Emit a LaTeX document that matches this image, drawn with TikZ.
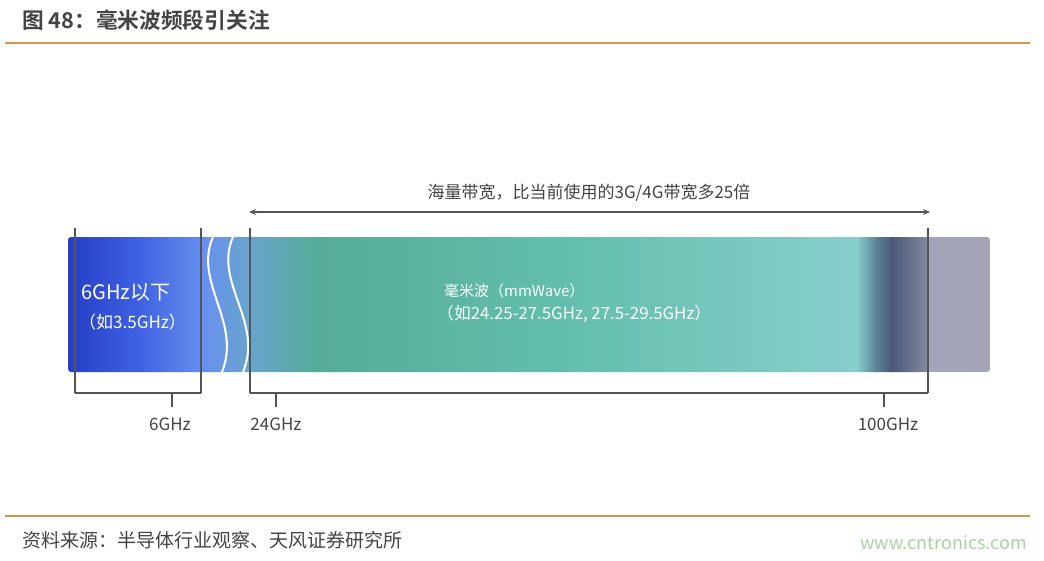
\documentclass[tikz,border=0pt]{standalone}
\usepackage{fontspec}
\setmainfont{Noto Sans CJK SC}
\newfontfamily\cjkb{Noto Sans CJK SC Bold}
\usetikzlibrary{arrows.meta}
\definecolor{rule}{HTML}{D4954B}
\definecolor{txt}{HTML}{444444}
\definecolor{lin}{HTML}{555555}
\definecolor{wm}{HTML}{A9D2A3}
\definecolor{b1}{RGB}{38,62,200}
\definecolor{b2}{RGB}{62,98,226}
\definecolor{b3}{RGB}{104,144,238}
\definecolor{b4}{RGB}{104,164,206}
\definecolor{g1}{RGB}{86,172,150}
\definecolor{g2}{RGB}{98,190,172}
\definecolor{g3}{RGB}{136,206,204}
\definecolor{d1}{RGB}{92,132,150}
\definecolor{d2}{RGB}{74,88,120}
\definecolor{d3}{RGB}{130,138,158}
\definecolor{gr}{RGB}{164,165,184}
\tikzset{
  seg/.style={draw=none},
  vline/.style={draw=lin, line width=1.1pt},
  brk/.style={draw=lin, line width=1.3pt},
  lab/.style={text=txt, font=\fontsize{17}{18}\selectfont, inner sep=0pt},
  intxt/.style={text=white, anchor=west, inner sep=0pt},
  wave/.style={draw=white, line width=2pt}
}
\begin{document}
\begin{tikzpicture}[x=1pt,y=-1pt]
\useasboundingbox (0,0) rectangle (1044,560);
\fill[white] (0,0) rectangle (1044,560);
% title
\node[anchor=west, text=txt, inner sep=0pt, font=\cjkb\fontsize{21.7}{23}\selectfont] (title) at (22,20) {图 48：毫米波频段引关注};
\draw[rule, line width=2pt] (5,43) -- (1030,43);
% band segments
\begin{scope}
\clip[rounded corners=3pt] (68,237) rectangle (990,372);
\shade[seg, left color=b1, right color=b2] (68,237) rectangle (140,372);
\shade[seg, left color=b2, right color=b3] (139.5,237) rectangle (205,372);
\shade[seg, left color=b3, right color=b4] (204.5,237) rectangle (248,372);
\shade[seg, left color=b4, right color=g1] (247.5,237) rectangle (320,372);
\shade[seg, left color=g1, right color=g2] (319.5,237) rectangle (560,372);
\shade[seg, left color=g2, right color=g3] (559.5,237) rectangle (857,372);
\shade[seg, left color=g3, right color=d1] (856.5,237) rectangle (876,372);
\shade[seg, left color=d1, right color=d2] (875.5,237) rectangle (892,372);
\shade[seg, left color=d2, right color=d3] (891.5,237) rectangle (928,372);
\fill[gr] (927.5,237) rectangle (990,372);
\end{scope}
% waves
\draw[wave] (213,237) .. controls (193,282) and (242,322) .. (222,372);
\draw[wave] (233,237) .. controls (213,282) and (264,322) .. (243,372);
% texts inside band
\node[intxt, font=\fontsize{20}{22}\selectfont] (lowband) at (81,292) {6GHz以下};
\node[intxt, font=\fontsize{17}{19}\selectfont] (lowex) at (79,322) {（如3.5GHz）};
\node[intxt, font=\fontsize{15}{17}\selectfont] (mmw) at (444,291) {毫米波（mmWave）};
\node[intxt, font=\fontsize{16.8}{18}\selectfont] (mmwex) at (437,314) {（如24.25-27.5GHz, 27.5-29.5GHz）};
% vertical marker lines
\coordinate (a0) at (75,228); \coordinate (a1) at (75,393);
\coordinate (b0) at (201,228); \coordinate (b1) at (201,393);
\coordinate (c0) at (250,228); \coordinate (c1) at (250,393);
\coordinate (d0) at (928,228); \coordinate (d1) at (928,393);
\draw[vline] (a0) -- (a1);
\draw[vline] (b0) -- (b1);
\draw[vline] (c0) -- (c1);
\draw[vline] (d0) -- (d1);
% brackets
\draw[brk] (a1) -- (b1);
\draw[brk] (c1) -- (d1);
\coordinate (t1) at (172,393); \coordinate (t1b) at (172,407);
\coordinate (t2) at (276,393); \coordinate (t2b) at (276,407);
\coordinate (t3) at (884,393); \coordinate (t3b) at (884,407);
\draw[brk] (t1) -- (t1b);
\draw[brk] (t2) -- (t2b);
\draw[brk] (t3) -- (t3b);
\node[lab] (f6) at (170,424) {6GHz};
\node[lab] (f24) at (276,424) {24GHz};
\node[lab] (f100) at (888,424) {100GHz};
% top arrow
\coordinate (arL) at (249,212); \coordinate (arR) at (930,212);
\draw[draw=lin, line width=1.2pt, {Stealth[length=7pt,width=6pt]}-{Stealth[length=7pt,width=6pt]}] (arL) -- (arR);
\node[lab, font=\fontsize{17}{19}\selectfont] (bw) at (589,193) {海量带宽，比当前使用的3G/4G带宽多25倍};
% footer
\draw[rule, line width=2pt] (5,516) -- (1030,516);
\node[anchor=west, text=txt, inner sep=0pt, font=\fontsize{19}{21}\selectfont] (src) at (22,540) {资料来源：半导体行业观察、天风证券研究所};
\node[anchor=east, text=wm, inner sep=0pt, font=\fontsize{18}{20}\selectfont] (wmk) at (1027,543) {www.cntronics.com};
\end{tikzpicture}
\end{document}
